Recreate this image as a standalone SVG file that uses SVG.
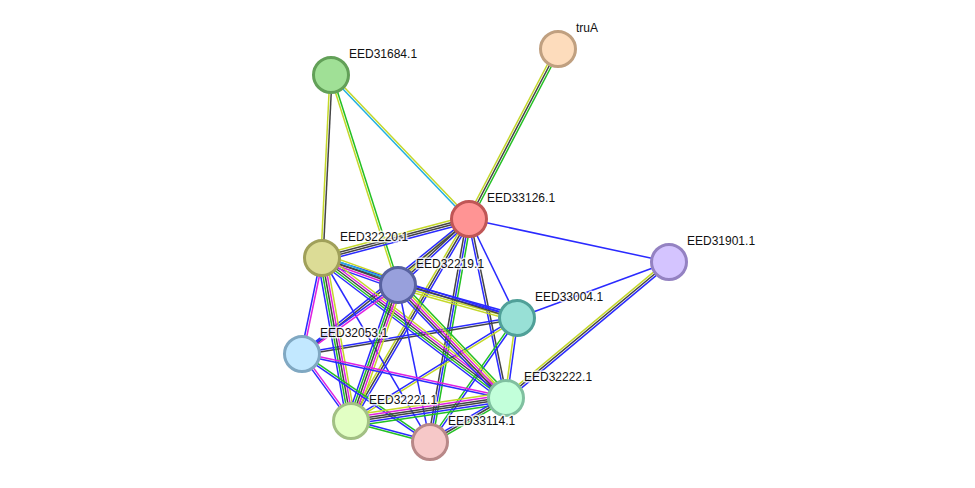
<svg xmlns="http://www.w3.org/2000/svg" width="975" height="488" viewBox="0 0 975 488">
<style>
line{stroke-width:1.5;fill:none}
.y{stroke:#c4d82a}.k{stroke:#444}.b{stroke:#2a2aff}.g{stroke:#22c022}.m{stroke:#e020e0}.c{stroke:#22b0e0}
.n circle{stroke-width:3}
text{font-family:"Liberation Sans",Arial,sans-serif;font-size:12px;fill:#111;paint-order:stroke;stroke:#fff;stroke-width:3;stroke-opacity:0.8;stroke-linejoin:round}
</style>
<rect width="975" height="488" fill="#fff"/>
<g id="edges">
<g transform="translate(558 49) rotate(117.64)"><line class="g" x2="191.9" y1="-2.2" y2="-2.2"/><line class="k" x2="191.9"/><line class="y" x2="191.9" y1="2.2" y2="2.2"/></g>
<g transform="translate(331 75) rotate(46.22)"><line class="c" x2="199.4" y1="1.1" y2="1.1"/><line class="y" x2="199.4" y1="-1.1" y2="-1.1"/></g>
<g transform="translate(331 75) rotate(92.82)"><line class="y" x2="183.2" y1="1.1" y2="1.1"/><line class="k" x2="183.2" y1="-1.1" y2="-1.1"/></g>
<g transform="translate(331 75) rotate(72.31)"><line class="y" x2="220.4" y1="1.1" y2="1.1"/><line class="g" x2="220.4" y1="-1.1" y2="-1.1"/></g>
<g transform="translate(469 219) rotate(12.13)"><line class="b" x2="204.6"/></g>
<g transform="translate(469 219) rotate(165.14)"><line class="y" x2="152.1" y1="3.3" y2="3.3"/><line class="k" x2="152.1" y1="1.1" y2="1.1"/><line class="k" x2="152.1" y1="-1.1" y2="-1.1"/><line class="b" x2="152.1" y1="-3.3" y2="-3.3"/></g>
<g transform="translate(469 219) rotate(137.09)"><line class="y" x2="96.9" y1="2.2" y2="2.2"/><line class="k" x2="96.9"/><line class="b" x2="96.9" y1="-2.2" y2="-2.2"/></g>
<g transform="translate(469 219) rotate(64.13)"><line class="b" x2="110"/></g>
<g transform="translate(469 219) rotate(141.05)"><line class="b" x2="214.7" y1="1.1" y2="1.1"/><line class="k" x2="214.7" y1="-1.1" y2="-1.1"/></g>
<g transform="translate(469 219) rotate(120.30)"><line class="y" x2="233.9" y1="2.2" y2="2.2"/><line class="k" x2="233.9"/><line class="b" x2="233.9" y1="-2.2" y2="-2.2"/></g>
<g transform="translate(469 219) rotate(99.92)"><line class="k" x2="226.4" y1="2.2" y2="2.2"/><line class="b" x2="226.4"/><line class="g" x2="226.4" y1="-2.2" y2="-2.2"/></g>
<g transform="translate(469 219) rotate(78.32)"><line class="b" x2="182.8" y1="1.1" y2="1.1"/><line class="k" x2="182.8" y1="-1.1" y2="-1.1"/></g>
<g transform="translate(669 262) rotate(159.78)"><line class="b" x2="162"/></g>
<g transform="translate(669 262) rotate(140.16)"><line class="b" x2="212.3" y1="-2.2" y2="-2.2"/><line class="k" x2="212.3"/><line class="y" x2="212.3" y1="2.2" y2="2.2"/></g>
<g transform="translate(517 318) rotate(97.83)"><line class="y" x2="80.75" y1="1.1" y2="1.1"/><line class="b" x2="80.75" y1="-1.1" y2="-1.1"/></g>
<g transform="translate(517 318) rotate(195.5)"><line class="y" x2="123.5" y1="-3.3" y2="-3.3"/><line class="y" x2="123.5" y1="-1.1" y2="-1.1"/><line class="b" x2="123.5" y1="1.1" y2="1.1"/><line class="b" x2="123.5" y1="3.3" y2="3.3"/></g>
<g transform="translate(517 318) rotate(197.10)"><line class="k" x2="204" y1="-1.1" y2="-1.1"/><line class="b" x2="204" y1="1.1" y2="1.1"/></g>
<g transform="translate(517 318) rotate(170.49)"><line class="k" x2="218" y1="-1.1" y2="-1.1"/><line class="b" x2="218" y1="1.1" y2="1.1"/></g>
<g transform="translate(517 318) rotate(148.18)"><line class="y" x2="195.4" y1="-1.1" y2="-1.1"/><line class="b" x2="195.4" y1="1.1" y2="1.1"/></g>
<g transform="translate(517 318) rotate(125.06)"><line class="b" x2="151.5" y1="-1.1" y2="-1.1"/><line class="g" x2="151.5" y1="1.1" y2="1.1"/></g>
<g transform="translate(322 258) rotate(19.56)"><line class="y" x2="80.65" y1="-4.4" y2="-4.4"/><line class="c" x2="80.65" y1="-2.2" y2="-2.2"/><line class="k" x2="80.65"/><line class="m" x2="80.65" y1="2.2" y2="2.2"/><line class="b" x2="80.65" y1="4.4" y2="4.4"/></g>
<g transform="translate(322 258) rotate(101.77)"><line class="b" x2="98.06" y1="1.1" y2="1.1"/><line class="m" x2="98.06" y1="-1.1" y2="-1.1"/></g>
<g transform="translate(322 258) rotate(79.91)"><line class="b" x2="165.6" y1="4.4" y2="4.4"/><line class="g" x2="165.6" y1="2.2" y2="2.2"/><line class="k" x2="165.6"/><line class="m" x2="165.6" y1="-2.2" y2="-2.2"/><line class="y" x2="165.6" y1="-4.4" y2="-4.4"/></g>
<g transform="translate(322 258) rotate(59.59)"><line class="b" x2="213.4"/></g>
<g transform="translate(322 258) rotate(37.27)"><line class="b" x2="231.2" y1="4.4" y2="4.4"/><line class="g" x2="231.2" y1="2.2" y2="2.2"/><line class="k" x2="231.2"/><line class="m" x2="231.2" y1="-2.2" y2="-2.2"/><line class="y" x2="231.2" y1="-4.4" y2="-4.4"/></g>
<g transform="translate(398 285) rotate(144.29)"><line class="b" x2="118.2" y1="1.1" y2="1.1"/><line class="m" x2="118.2" y1="-1.1" y2="-1.1"/></g>
<g transform="translate(398 285) rotate(109.06)"><line class="b" x2="143.9" y1="4.4" y2="4.4"/><line class="g" x2="143.9" y1="2.2" y2="2.2"/><line class="k" x2="143.9"/><line class="m" x2="143.9" y1="-2.2" y2="-2.2"/><line class="y" x2="143.9" y1="-4.4" y2="-4.4"/></g>
<g transform="translate(398 285) rotate(78.48)"><line class="b" x2="160.2"/></g>
<g transform="translate(398 285) rotate(46.30)"><line class="b" x2="156.3" y1="4.4" y2="4.4"/><line class="k" x2="156.3" y1="2.2" y2="2.2"/><line class="m" x2="156.3"/><line class="y" x2="156.3" y1="-2.2" y2="-2.2"/><line class="g" x2="156.3" y1="-4.4" y2="-4.4"/></g>
<g transform="translate(302 354) rotate(53.81)"><line class="b" x2="83" y1="1.1" y2="1.1"/><line class="m" x2="83" y1="-1.1" y2="-1.1"/></g>
<g transform="translate(302 354) rotate(12.17)"><line class="m" x2="208.7" y1="-1.1" y2="-1.1"/><line class="b" x2="208.7" y1="1.1" y2="1.1"/></g>
<g transform="translate(302 354) rotate(34.51)"><line class="g" x2="155.3" y1="-1.1" y2="-1.1"/><line class="b" x2="155.3" y1="1.1" y2="1.1"/></g>
<g transform="translate(351 421) rotate(-8.44)"><line class="y" x2="156.7" y1="-5.5" y2="-5.5"/><line class="m" x2="156.7" y1="-3.3" y2="-3.3"/><line class="k" x2="156.7" y1="-1.1" y2="-1.1"/><line class="k" x2="156.7" y1="1.1" y2="1.1"/><line class="b" x2="156.7" y1="3.3" y2="3.3"/><line class="g" x2="156.7" y1="5.5" y2="5.5"/></g>
<g transform="translate(351 421) rotate(14.89)"><line class="b" x2="81.7" y1="-1.1" y2="-1.1"/><line class="g" x2="81.7" y1="1.1" y2="1.1"/></g>
<g transform="translate(430 442) rotate(-30.07)"><line class="b" x2="87.8" y1="-2.2" y2="-2.2"/><line class="g" x2="87.8" y1="2.2" y2="2.2"/><line class="k" x2="87.8"/></g>
</g>
<g id="truA" class="n"><circle cx="558" cy="49" r="17.5" fill="#fddcbc" stroke="#c0a080"/><text x="576" y="32">truA</text></g>
<g id="EED31684.1" class="n"><circle cx="331" cy="75" r="17.5" fill="#a0e096" stroke="#62a058"/><text x="349" y="58">EED31684.1</text></g>
<g id="EED33126.1" class="n"><circle cx="469" cy="219" r="17.5" fill="#ff9494" stroke="#c05656"/><text x="487" y="202">EED33126.1</text></g>
<g id="EED31901.1" class="n"><circle cx="669" cy="262" r="17.5" fill="#d4c4ff" stroke="#9482c2"/><text x="687" y="245">EED31901.1</text></g>
<g id="EED32220.1" class="n"><circle cx="322" cy="258" r="17.5" fill="#dcdc96" stroke="#a0a05a"/><text x="340" y="241">EED32220.1</text></g>
<g id="EED32219.1" class="n"><circle cx="398" cy="285" r="17.5" fill="#98a0dc" stroke="#5862a0"/><text x="416" y="268">EED32219.1</text></g>
<g id="EED33004.1" class="n"><circle cx="517" cy="318" r="17.5" fill="#98e0d6" stroke="#50a098"/><text x="535" y="301">EED33004.1</text></g>
<g id="EED32053.1" class="n"><circle cx="302" cy="354" r="17.5" fill="#c2e8ff" stroke="#80a8c2"/><text x="320" y="337">EED32053.1</text></g>
<g id="EED32222.1" class="n"><circle cx="506" cy="398" r="17.5" fill="#c2ffda" stroke="#80c0a0"/><text x="524" y="381">EED32222.1</text></g>
<g id="EED32221.1" class="n"><circle cx="351" cy="421" r="17.5" fill="#e2ffc4" stroke="#a2c084"/><text x="369" y="404">EED32221.1</text></g>
<g id="EED33114.1" class="n"><circle cx="430" cy="442" r="17.5" fill="#f6c8c8" stroke="#b88888"/><text x="448" y="425">EED33114.1</text></g>
</svg>
